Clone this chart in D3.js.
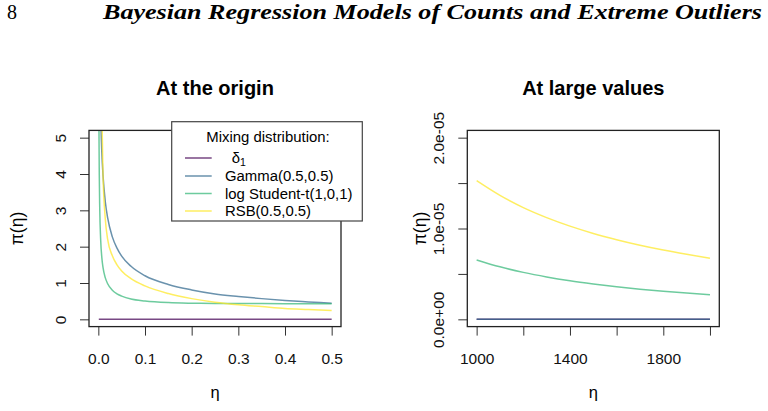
<!DOCTYPE html>
<html>
<head>
<meta charset="utf-8">
<script src="https://cdn.jsdelivr.net/npm/d3@7"></script>
<style>
    body { margin: 0; background: #fff; }
    svg { display: block; font-family: 'Liberation Sans', Arial, sans-serif; }
</style>
</head>
<body>
<script>
// series names and colours (viridis, 4 levels)
const seriesNames = ['delta', 'Gamma(0.5,0.5)', 'log Student-t(1,0,1)', 'RSB(0.5,0.5)'];
const seriesColors = ['#440154', '#31688E', '#35B779', '#FDE725'];

// left panel: eta near the origin
const etaOrigin = [0.001, 0.0015, 0.002, 0.003, 0.005, 0.0075, 0.01, 0.015, 0.02, 0.03, 0.04, 0.05,
    0.07, 0.1, 0.15, 0.2, 0.25, 0.3, 0.35, 0.4, 0.45, 0.5];
const deltaOrigin = [0, 0, 0, 0, 0, 0, 0, 0, 0, 0, 0, 0, 0, 0, 0, 0, 0, 0, 0, 0, 0, 0];
const gammaOrigin = [12.6, 10.3, 8.92, 7.28, 5.63, 4.59, 3.97, 3.23, 2.79, 2.27, 1.96, 1.74,
    1.46, 1.20, 0.96, 0.81, 0.70, 0.63, 0.57, 0.52, 0.48, 0.44];
const logtOrigin = [6.5, 4.9, 4.02, 3.06, 2.19, 1.70, 1.43, 1.14, 0.98, 0.80, 0.70, 0.64,
    0.56, 0.505, 0.46, 0.443, 0.436, 0.433, 0.433, 0.432, 0.432, 0.43];
const rsbOrigin = [30, 22, 17, 12, 7.5, 5.8, 4.0, 2.75, 2.2, 1.75, 1.5, 1.33,
    1.12, 0.92, 0.71, 0.57, 0.47, 0.40, 0.35, 0.30, 0.27, 0.24];

// right panel: large eta
const etaLarge = [1000, 1100, 1200, 1300, 1400, 1500, 1600, 1700, 1800, 1900, 2000];
const deltaLarge = [0, 0, 0, 0, 0, 0, 0, 0, 0, 0, 0];
const gammaLarge = [0, 0, 0, 0, 0, 0, 0, 0, 0, 0, 0];
const logtLarge = [0.654e-5, 0.578e-5, 0.517e-5, 0.467e-5, 0.425e-5, 0.390e-5, 0.359e-5,
    0.332e-5, 0.309e-5, 0.289e-5, 0.271e-5];
const rsbLarge = [1.526e-5, 1.364e-5, 1.230e-5, 1.120e-5, 1.026e-5, 0.946e-5, 0.877e-5,
    0.816e-5, 0.763e-5, 0.716e-5, 0.672e-5];

// ticks
const xTicksOrigin = [0, 0.1, 0.2, 0.3, 0.4, 0.5];
const yTicksOrigin = [0, 1, 2, 3, 4, 5];
const xTicksLarge = [1000, 1200, 1400, 1600, 1800, 2000];
const xLabelsLarge = [1000, 1400, 1800];
const yTicksLarge = [0, 0.5e-5, 1e-5, 1.5e-5, 2e-5];
const yLabelsLarge = ['0.0e+00', '1.0e-05', '2.0e-05'];

const width = 768;
const height = 411;

const svg = d3.select('body')
    .append('svg')
    .attr('width', width)
    .attr('height', height);

// running head of the paper page
svg.append('text')
    .attr('x', 7)
    .attr('y', 19)
    .style('font-family', "'Liberation Serif', serif")
    .style('font-size', '20px')
    .text('8');

svg.append('text')
    .attr('x', 103)
    .attr('y', 19)
    .attr('textLength', 659)
    .attr('lengthAdjust', 'spacingAndGlyphs')
    .style('font-family', "'Liberation Serif', serif")
    .style('font-weight', 'bold')
    .style('font-style', 'italic')
    .style('font-size', '20px')
    .text('Bayesian Regression Models of Counts and Extreme Outliers');

drawPanel({
    id: 'origin',
    left: 89, right: 341, top: 130.4, bottom: 326.6,
    xDomain: [-0.02, 0.52],
    yDomain: [-0.2, 5.2],
    eta: etaOrigin,
    series: [deltaOrigin, gammaOrigin, logtOrigin, rsbOrigin],
    xTicks: xTicksOrigin,
    xFormat: d => d3.format('.1f')(d),
    yTicks: yTicksOrigin,
    yFormat: d => String(d),
    yLabelX: 17,
    title: 'At the origin'
});

drawPanel({
    id: 'large',
    left: 467.3, right: 719.3, top: 130.4, bottom: 326.6,
    xDomain: [960, 2040],
    yDomain: [-0.08e-5, 2.08e-5],
    eta: etaLarge,
    series: [deltaLarge, gammaLarge, logtLarge, rsbLarge],
    xTicks: xTicksLarge,
    xFormat: d => xLabelsLarge.includes(d) ? String(d) : '',
    yTicks: yTicksLarge,
    yFormat: (d, i) => i % 2 === 0 ? yLabelsLarge[i / 2] : '',
    yLabelX: 420,
    title: 'At large values'
});

addLegend(svg);

function drawPanel(p) {
    const x = d3.scaleLinear(p.xDomain, [p.left, p.right]);
    const y = d3.scaleLinear(p.yDomain, [p.bottom, p.top]);
    const g = svg.append('g').attr('class', 'panel');

    g.append('clipPath')
        .attr('id', 'clip-' + p.id)
        .append('rect')
        .attr('x', p.left)
        .attr('y', p.top)
        .attr('width', p.right - p.left)
        .attr('height', p.bottom - p.top);

    const line = d3.line()
        .x((d, i) => x(p.eta[i]))
        .y(d => y(d))
        .curve(d3.curveMonotoneX);

    g.append('g')
        .attr('clip-path', `url(#clip-${p.id})`)
        .selectAll('path')
        .data(p.series)
        .join('path')
        .attr('fill', 'none')
        .attr('stroke', (d, i) => seriesColors[i])
        .attr('stroke-opacity', 0.72)
        .attr('stroke-width', 1.5)
        .attr('d', line);

    // x axis
    const xAxis = g.append('g')
        .attr('transform', `translate(0,${p.bottom})`)
        .call(d3.axisBottom(x).tickValues(p.xTicks).tickFormat(p.xFormat)
            .tickSize(9).tickSizeOuter(0).tickPadding(17));
    xAxis.select('.domain').remove();
    xAxis.selectAll('text').style('font-size', '15.5px').attr('fill', '#111');
    xAxis.selectAll('line').attr('stroke', '#333');

    // y axis, labels parallel to the axis
    const yAxis = g.append('g')
        .attr('transform', `translate(${p.left},0)`)
        .call(d3.axisLeft(y).tickValues(p.yTicks).tickFormat(p.yFormat)
            .tickSize(9).tickSizeOuter(0));
    yAxis.select('.domain').remove();
    yAxis.selectAll('line').attr('stroke', '#333');
    yAxis.selectAll('text')
        .attr('x', null)
        .attr('dy', '0.35em')
        .attr('transform', 'translate(-28.5,0) rotate(-90)')
        .attr('text-anchor', 'middle')
        .attr('fill', '#111')
        .style('font-size', '15.5px');

    // box
    g.append('rect')
        .attr('x', p.left)
        .attr('y', p.top)
        .attr('width', p.right - p.left)
        .attr('height', p.bottom - p.top)
        .attr('fill', 'none')
        .attr('stroke', '#222')
        .attr('stroke-width', 1.3);

    const cx = (p.left + p.right) / 2;
    const cy = (p.top + p.bottom) / 2;

    g.append('text')
        .attr('x', cx)
        .attr('y', 95)
        .attr('text-anchor', 'middle')
        .style('font-weight', 'bold')
        .style('font-size', '20px')
        .text(p.title);

    g.append('text')
        .attr('x', cx)
        .attr('y', 398)
        .attr('text-anchor', 'middle')
        .style('font-size', '16.5px')
        .text('η');

    g.append('text')
        .attr('transform', `translate(${p.yLabelX},${cy}) rotate(-90)`)
        .attr('dy', '0.35em')
        .attr('text-anchor', 'middle')
        .style('font-size', '17.5px')
        .text('π(η)');
}

function addLegend(svg) {
    const rowY = [158, 176, 193.5, 211];
    const legend = svg.append('g').attr('id', 'legend');

    legend.append('rect')
        .attr('x', 171.7)
        .attr('y', 121.7)
        .attr('width', 190.6)
        .attr('height', 99.3)
        .attr('fill', '#fff')
        .attr('stroke', '#444')
        .attr('stroke-width', 1.2);

    legend.append('text')
        .attr('x', 268)
        .attr('y', 136.7)
        .attr('dy', '0.35em')
        .attr('text-anchor', 'middle')
        .style('font-size', '14.9px')
        .text('Mixing distribution:');

    legend.selectAll('line')
        .data(seriesColors)
        .join('line')
        .attr('x1', 185)
        .attr('x2', 211.7)
        .attr('y1', (d, i) => rowY[i])
        .attr('y2', (d, i) => rowY[i])
        .attr('stroke', d => d)
        .attr('stroke-opacity', 0.72)
        .attr('stroke-width', 1.5);

    const labels = legend.selectAll('text.item')
        .data(seriesNames)
        .join('text')
        .attr('class', 'item')
        .attr('x', (d, i) => i === 0 ? 231.7 : 225)
        .attr('y', (d, i) => rowY[i])
        .attr('dy', '0.35em')
        .style('font-size', '14.9px');

    labels.filter((d, i) => i > 0).text(d => d);

    const delta = labels.filter((d, i) => i === 0);
    delta.append('tspan').text('δ');
    delta.append('tspan')
        .attr('dy', '0.3em')
        .style('font-size', '10.5px')
        .text('1');
}
</script>
</body>
</html>
